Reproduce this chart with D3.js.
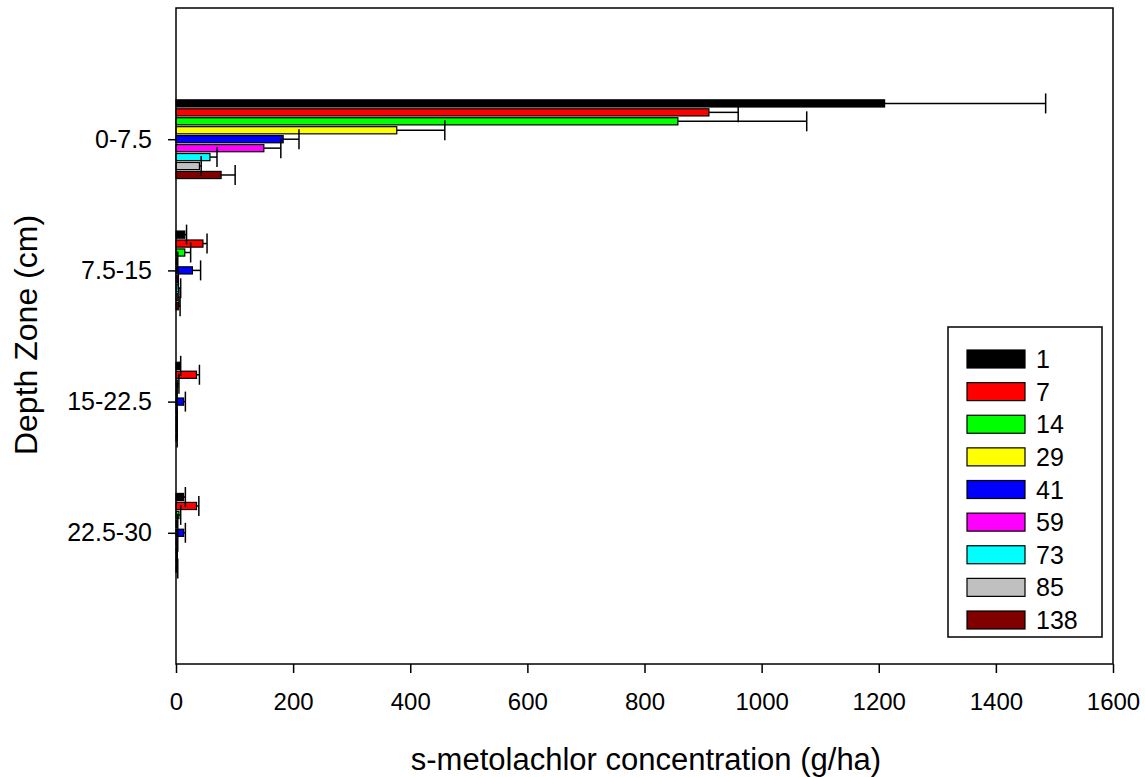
<!DOCTYPE html>
<html><head><meta charset="utf-8">
<script src="https://cdn.jsdelivr.net/npm/d3@7"></script>
<style>body{margin:0;background:#fff}svg{display:block}text{font-family:"Liberation Sans",Arial,sans-serif}</style>
</head><body>
<svg id="c" width="1145" height="777"></svg>
<script>
const depths = ["0-7.5","7.5-15","15-22.5","22.5-30"];
const series = ["1","7","14","29","41","59","73","85","138"];
const colors = ["#000000","#ff0000","#00ff00","#ffff00","#0000ff","#ff00ff","#00ffff","#c0c0c0","#800000"];
const v1   = [1210, 15, 6, 13];   const e1   = [275, 3, 2, 3];
const v7   = [910, 46, 35, 35];   const e7   = [50, 7, 5, 4];
const v14  = [857, 15, 3, 5];     const e14  = [220, 10, 2, 3];
const v29  = [377, 2, 1, 2];      const e29  = [82, 1, 1, 1];
const v41  = [183, 28, 13, 13];   const e41  = [27, 14, 3, 3];
const v59  = [150, 3, 1, 2];      const e59  = [29, 1, 1, 1];
const v73  = [58, 4, 1, 1];       const e73  = [12, 4, 1, 1];
const v85  = [40, 3, 1, 1];       const e85  = [3, 2, 1, 1];
const v138 = [77, 4, 1, 2];       const e138 = [24, 3, 1, 1];
const values = [v1,v7,v14,v29,v41,v59,v73,v85,v138];
const errors = [e1,e7,e14,e29,e41,e59,e73,e85,e138];
const xTicks = [0,200,400,600,800,1000,1200,1400,1600];

const svg = d3.select("#c");
const L=176, R=1113, T=8, B=664;
const x = d3.scaleLinear().domain([0,1600]).range([L,R]);
const y = d3.scaleLinear().domain([0,5]).range([T,B]);
const inner = d3.scaleBand().domain(series).range([-0.3,0.3]).paddingInner(0.2);

const rows = [];
series.forEach((s,i)=>depths.forEach((d,j)=>rows.push({s,i,j,v:values[i][j],e:errors[i][j]})));

// bars
const bh = y(inner.bandwidth())-y(0);
svg.append("g").selectAll("rect").data(rows).join("rect")
  .attr("x", x(0))
  .attr("y", d=>y(d.j+1+inner(d.s)))
  .attr("width", d=>x(d.v)-x(0))
  .attr("height", bh)
  .attr("fill", d=>colors[d.i])
  .attr("stroke","#000").attr("stroke-width",1.2);

// error bars
const eg = svg.append("g").attr("stroke","#000").attr("stroke-width",1.5);
rows.forEach(d=>{
  const cy = y(d.j+1+inner(d.s)+inner.bandwidth()/2);
  eg.append("line").attr("x1",x(d.v)).attr("x2",x(d.v+d.e)).attr("y1",cy).attr("y2",cy);
  eg.append("line").attr("x1",x(d.v+d.e)).attr("x2",x(d.v+d.e)).attr("y1",cy-10).attr("y2",cy+10);
});

// frame
svg.append("rect").attr("x",L).attr("y",T).attr("width",R-L).attr("height",B-T)
  .attr("fill","none").attr("stroke","#000").attr("stroke-width",1.5);

// x axis
const xa = svg.append("g").attr("transform",`translate(0,${B})`)
  .call(d3.axisBottom(x).tickValues(xTicks).tickSize(9).tickPadding(20).tickFormat(d3.format("d")));
xa.select(".domain").remove();
xa.selectAll("line").attr("stroke-width",1.5);
xa.selectAll("text").attr("font-size",24).attr("fill","#000");

// y axis
const ya = svg.append("g").attr("transform",`translate(${L},0)`)
  .call(d3.axisLeft(y).tickValues([1,2,3,4]).tickSize(8).tickPadding(16).tickFormat((d)=>depths[d-1]));
ya.select(".domain").remove();
ya.selectAll("line").attr("stroke-width",1.5);
ya.selectAll("text").attr("font-size",25).attr("fill","#000");

// titles
svg.append("text").attr("x",646).attr("y",770).attr("text-anchor","middle")
  .attr("font-size",31).text("s-metolachlor concentration (g/ha)");
svg.append("text").attr("transform",`translate(37,335) rotate(-90)`).attr("text-anchor","middle")
  .attr("font-size",32).text("Depth Zone (cm)");

// legend
const lg = svg.append("g");
lg.append("rect").attr("x",948).attr("y",327).attr("width",154).attr("height",310)
  .attr("fill","#fff").attr("stroke","#000").attr("stroke-width",1.5);
const ly = d3.scalePoint().domain(series).range([359,620]);
series.forEach((s,i)=>{
  lg.append("rect").attr("x",967).attr("y",ly(s)-9).attr("width",58).attr("height",18)
    .attr("fill",colors[i]).attr("stroke","#000").attr("stroke-width",1.2);
  lg.append("text").attr("x",1036).attr("y",ly(s)+9).attr("font-size",25).text(s);
});
</script>
</body></html>
